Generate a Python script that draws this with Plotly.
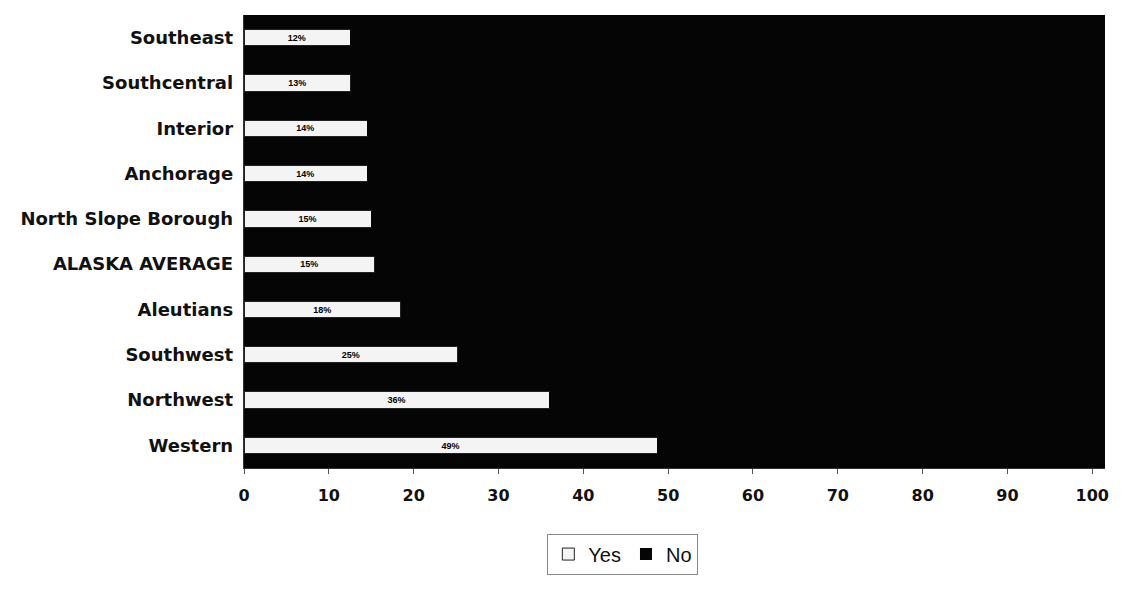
import plotly.graph_objects as go

regions = ["Southeast", "Southcentral", "Interior", "Anchorage", "North Slope Borough",
           "ALASKA AVERAGE", "Aleutians", "Southwest", "Northwest", "Western"]
yes_vals = [12.5, 12.6, 14.5, 14.5, 15.0, 15.4, 18.5, 25.2, 36.0, 48.7]
no_vals = [round(100 - v, 1) for v in yes_vals]

fig = go.Figure()
fig.add_trace(go.Bar(
    y=regions, x=yes_vals, name="Yes", orientation="h",
    marker=dict(color="#f4f4f4", line=dict(color="#222222", width=1)),
    text=[f"{v:.0f}%" for v in yes_vals], textposition="inside", insidetextanchor="middle",
    textfont=dict(color="#000000", size=14, family="Liberation Sans", weight="bold"),
))
fig.add_trace(go.Bar(
    y=regions, x=no_vals, name="No", orientation="h",
    marker=dict(color="#050505", line=dict(color="#050505", width=0)),
))

fig.update_layout(
    barmode="stack",
    bargap=0.64,
    width=1121, height=598,
    margin=dict(l=236, r=24, t=7, b=138),
    paper_bgcolor="#ffffff",
    plot_bgcolor="#050505",
    font=dict(family="DejaVu Sans, Liberation Sans, Arial, sans-serif", color="#111111"),
    showlegend=True,
    legend=dict(
        orientation="h", traceorder="normal",
        x=0.44, xanchor="center", y=-0.19, yanchor="middle",
        bordercolor="#888888", borderwidth=1, bgcolor="#ffffff",
        font=dict(size=20, color="#111111", family="Liberation Sans, Arial"),
    ),
    xaxis=dict(
        range=[0, 101.5], tickvals=list(range(0, 101, 10)),
        tickfont=dict(size=16, family="DejaVu Sans, Liberation Sans", color="#111111", weight="bold"),
        ticks="outside", ticklen=5, tickcolor="#555555", ticklabelstandoff=8,
        showgrid=False, zeroline=False, showline=True, linecolor="#333333",
    ),
    yaxis=dict(
        autorange="reversed",
        tickfont=dict(size=18, family="DejaVu Sans, Liberation Sans", color="#111111", weight="bold"),
        ticks="", ticksuffix=" ", showgrid=False, showline=True, linecolor="#333333",
    ),
)

fig.write_html("out.html")
